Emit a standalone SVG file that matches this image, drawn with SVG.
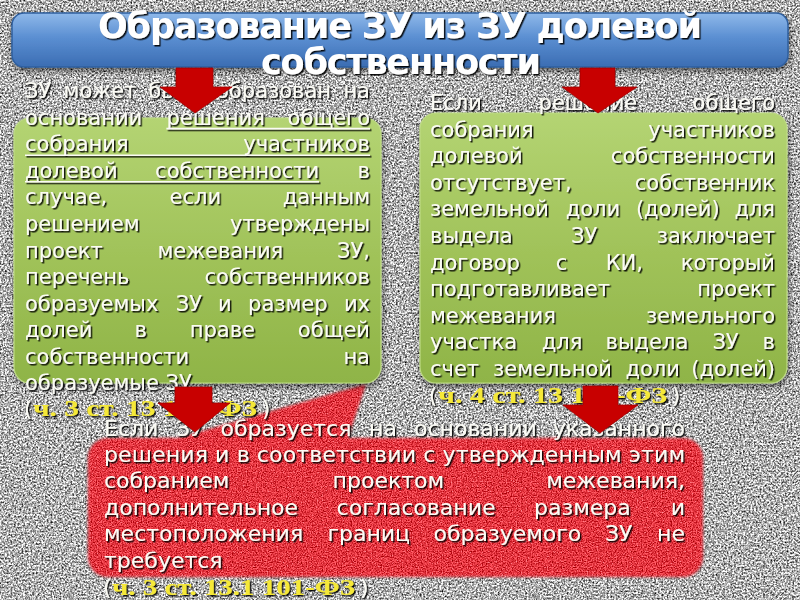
<svg xmlns="http://www.w3.org/2000/svg" width="800" height="600" viewBox="0 0 800 600">
<defs>
<style>
.t{font-family:"DejaVu Sans","Verdana",sans-serif;font-size:21px;fill:#fbfbf5;}
.rt{font-family:"DejaVu Sans","Verdana",sans-serif;font-size:22px;fill:#fbfbf5;}
.e{text-anchor:end;}
.cite{font-family:"Liberation Serif","Times New Roman",serif;font-weight:bold;font-size:24px;fill:#f5e838;}
.ttl{font-family:"DejaVu Sans","Verdana",sans-serif;font-weight:bold;font-size:35px;fill:#ffffff;text-anchor:middle;}
.arrow{fill:#c80000;stroke:#a00000;stroke-width:0.8;}
.ul{stroke:#fbfbf5;stroke-width:1.6;fill:none;}
.green{fill:url(#gGreen);stroke:#bedb85;stroke-width:1.2;filter:url(#shadow);}
</style>
<filter id="granite" filterUnits="userSpaceOnUse" x="0" y="0" width="800" height="600" color-interpolation-filters="sRGB">
<feTurbulence type="fractalNoise" baseFrequency="0.55" numOctaves="3" seed="5" result="n"/>
<feColorMatrix in="n" type="matrix" values="1.7 0 0 0 -0.16  1.7 0 0 0 -0.16  1.7 0 0 0 -0.16  0 0 0 0 1"/>
</filter>
<filter id="redtex" x="-5%" y="-5%" width="110%" height="110%" color-interpolation-filters="sRGB">
<feTurbulence type="fractalNoise" baseFrequency="0.8" numOctaves="2" seed="11" result="n"/>
<feColorMatrix in="n" type="matrix" values="0.9 0 0 0 0.44  0.9 0 0 0 -0.24  0.9 0 0 0 -0.2  0 0 0 0 1" result="c"/>
<feGaussianBlur in="SourceAlpha" stdDeviation="1.6" result="a"/>
<feComposite in="c" in2="a" operator="in"/>
</filter>
<filter id="shadow" x="-10%" y="-10%" width="120%" height="125%">
<feDropShadow dx="1" dy="3" stdDeviation="3" flood-color="#000" flood-opacity="0.55"/>
</filter>
<filter id="ts" x="-5%" y="-20%" width="110%" height="150%">
<feDropShadow dx="1.5" dy="1.5" stdDeviation="0.6" flood-color="#000" flood-opacity="0.9"/>
</filter>
<linearGradient id="gGreen" x1="0" y1="0" x2="0" y2="1">
<stop offset="0" stop-color="#b4d473"/>
<stop offset="0.5" stop-color="#a1c35a"/>
<stop offset="1" stop-color="#8fb447"/>
</linearGradient>
<linearGradient id="gBlue" x1="0" y1="0" x2="0" y2="1">
<stop offset="0" stop-color="#8fb9ea"/>
<stop offset="0.45" stop-color="#5b8fd2"/>
<stop offset="1" stop-color="#3b6db3"/>
</linearGradient>
</defs>

<rect x="0" y="0" width="800" height="600" fill="#aaaaaa"/>
<rect x="0" y="0" width="800" height="600" filter="url(#granite)"/>

<g id="title">
<rect x="12" y="13" width="776" height="54" rx="12" fill="url(#gBlue)" stroke="#2f5f9f" stroke-width="1.5" filter="url(#shadow)"/>
<g filter="url(#ts)">
<text class="ttl" x="400" y="38" textLength="604">Образование ЗУ из ЗУ долевой</text>
<text class="ttl" x="401" y="74" textLength="280">собственности</text>
</g>
</g>

<g id="box-bottom">
<path d="M 108 438 H 178 L 366 384 L 348 438 H 683 A 20 20 0 0 1 703 458 V 557 A 20 20 0 0 1 683 577 H 108 A 20 20 0 0 1 88 557 V 458 A 20 20 0 0 1 108 438 Z" fill="#e03035" filter="url(#redtex)"/>
<g filter="url(#ts)">
<text class="rt" x="104" y="436">Если</text>
<text class="rt" x="176" y="436">ЗУ</text>
<text class="rt" x="220.5" y="436">образуется</text>
<text class="rt" x="369" y="436">на</text>
<text class="rt" x="414" y="436">основании</text>
<text class="rt e" x="685" y="436">указанного</text>
<text class="rt" x="104" y="462" textLength="581">решения и в соответствии с утвержденным этим</text>
<text class="rt" x="104" y="488.4">собранием</text>
<text class="rt" x="332.6" y="488.4">проектом</text>
<text class="rt e" x="685" y="488.4">межевания,</text>
<text class="rt" x="104" y="514.9">дополнительное</text>
<text class="rt" x="336.6" y="514.9">согласование</text>
<text class="rt" x="534" y="514.9">размера</text>
<text class="rt e" x="685" y="514.9">и</text>
<text class="rt" x="104" y="541.4">местоположения</text>
<text class="rt" x="327.4" y="541.4">границ</text>
<text class="rt" x="433.5" y="541.4">образуемого</text>
<text class="rt" x="605" y="541.4">ЗУ</text>
<text class="rt e" x="685" y="541.4">не</text>
<text class="rt" x="104" y="568">требуется</text>
<text class="rt" x="103" y="594.6">(</text>
<text class="cite" x="112" y="594.6" textLength="243" lengthAdjust="spacingAndGlyphs">ч. 3 ст. 13.1 101-ФЗ</text>
<text class="rt" x="360" y="594.6">)</text>
</g>
</g>

<g id="box-left">
<rect class="green" x="14" y="118" width="367" height="265" rx="16"/>
<g filter="url(#ts)">
<text class="t" x="25" y="98">ЗУ</text>
<text class="t" x="63.6" y="98">может</text>
<text class="t" x="148.3" y="98">быть</text>
<text class="t" x="216" y="98">образован</text>
<text class="t e" x="370" y="98">на</text>
<text class="t" x="25" y="124.6">основании</text>
<text class="t" x="166.4" y="124.6">решения</text>
<text class="t e" x="370" y="124.6">общего</text>
<text class="t" x="25" y="151.2">собрания</text>
<text class="t e" x="370" y="151.2">участников</text>
<text class="t" x="25" y="177.8">долевой</text>
<text class="t" x="155.1" y="177.8">собственности</text>
<text class="t e" x="370" y="177.8">в</text>
<text class="t" x="25" y="204.4">случае,</text>
<text class="t" x="169.6" y="204.4">если</text>
<text class="t e" x="370" y="204.4">данным</text>
<text class="t" x="25" y="231">решением</text>
<text class="t e" x="370" y="231">утверждены</text>
<text class="t" x="25" y="257.6">проект</text>
<text class="t" x="157.4" y="257.6">межевания</text>
<text class="t e" x="370" y="257.6">ЗУ,</text>
<text class="t" x="25" y="284.2">перечень</text>
<text class="t e" x="370" y="284.2">собственников</text>
<text class="t" x="25" y="310.8">образуемых</text>
<text class="t" x="175.7" y="310.8">ЗУ</text>
<text class="t" x="218" y="310.8">и</text>
<text class="t" x="248.1" y="310.8">размер</text>
<text class="t e" x="370" y="310.8">их</text>
<text class="t" x="25" y="337.4">долей</text>
<text class="t" x="134.4" y="337.4">в</text>
<text class="t" x="189.8" y="337.4">праве</text>
<text class="t e" x="370" y="337.4">общей</text>
<text class="t" x="25" y="364">собственности</text>
<text class="t e" x="370" y="364">на</text>
<text class="t" x="25" y="390.4">образуемые ЗУ</text>
<text class="t" x="24" y="416.4">(</text>
<text class="cite" x="33" y="416.4" textLength="224" lengthAdjust="spacingAndGlyphs">ч. 3 ст. 13 101-ФЗ</text>
<text class="t" x="262" y="416.4">)</text>
<path class="ul" d="M166.4 128.6 H370 M25 155.2 H370 M25 181.8 H319"/>
</g>
</g>

<g id="box-right">
<rect class="green" x="420" y="113" width="367" height="270" rx="16"/>
<g filter="url(#ts)">
<text class="t" x="430" y="110">Если</text>
<text class="t" x="538.6" y="110">решение</text>
<text class="t e" x="775" y="110">общего</text>
<text class="t" x="430" y="136.6">собрания</text>
<text class="t e" x="775" y="136.6">участников</text>
<text class="t" x="430" y="163.2">долевой</text>
<text class="t e" x="775" y="163.2">собственности</text>
<text class="t" x="430" y="189.8">отсутствует,</text>
<text class="t e" x="775" y="189.8">собственник</text>
<text class="t" x="430" y="216.4">земельной</text>
<text class="t" x="565.7" y="216.4">доли</text>
<text class="t" x="635.9" y="216.4">(долей)</text>
<text class="t e" x="775" y="216.4">для</text>
<text class="t" x="430" y="243">выдела</text>
<text class="t" x="571" y="243">ЗУ</text>
<text class="t e" x="775" y="243">заключает</text>
<text class="t" x="430" y="269.6">договор</text>
<text class="t" x="555.8" y="269.6">с</text>
<text class="t" x="605.7" y="269.6">КИ,</text>
<text class="t e" x="775" y="269.6">который</text>
<text class="t" x="430" y="296.2">подготавливает</text>
<text class="t e" x="775" y="296.2">проект</text>
<text class="t" x="430" y="322.8">межевания</text>
<text class="t e" x="775" y="322.8">земельного</text>
<text class="t" x="430" y="349.4">участка</text>
<text class="t" x="541.7" y="349.4">для</text>
<text class="t" x="605.6" y="349.4">выдела</text>
<text class="t" x="712.4" y="349.4">ЗУ</text>
<text class="t e" x="775" y="349.4">в</text>
<text class="t" x="430" y="376">счет</text>
<text class="t" x="493.1" y="376">земельной</text>
<text class="t" x="625.5" y="376">доли</text>
<text class="t e" x="775" y="376">(долей)</text>
<text class="t" x="429" y="402.6">(</text>
<text class="cite" x="438" y="402.6" textLength="229" lengthAdjust="spacingAndGlyphs">ч. 4 ст. 13 101-ФЗ</text>
<text class="t" x="672" y="402.6">)</text>
</g>
</g>

<g id="connectors">
<path class="arrow" d="M176 68 H213 V87 H232 L195 113 L160 87 H176 Z"/>
<path class="arrow" d="M580 68 H615 V87 H637 L598 113 L562 87 H580 Z"/>
<path class="arrow" d="M175 387 H212 V403 H230 L195 432 L158 403 H175 Z"/>
<path class="arrow" d="M583 386 H618 V405 H638 L600 433 L563 405 H583 Z"/>
</g>
</svg>
